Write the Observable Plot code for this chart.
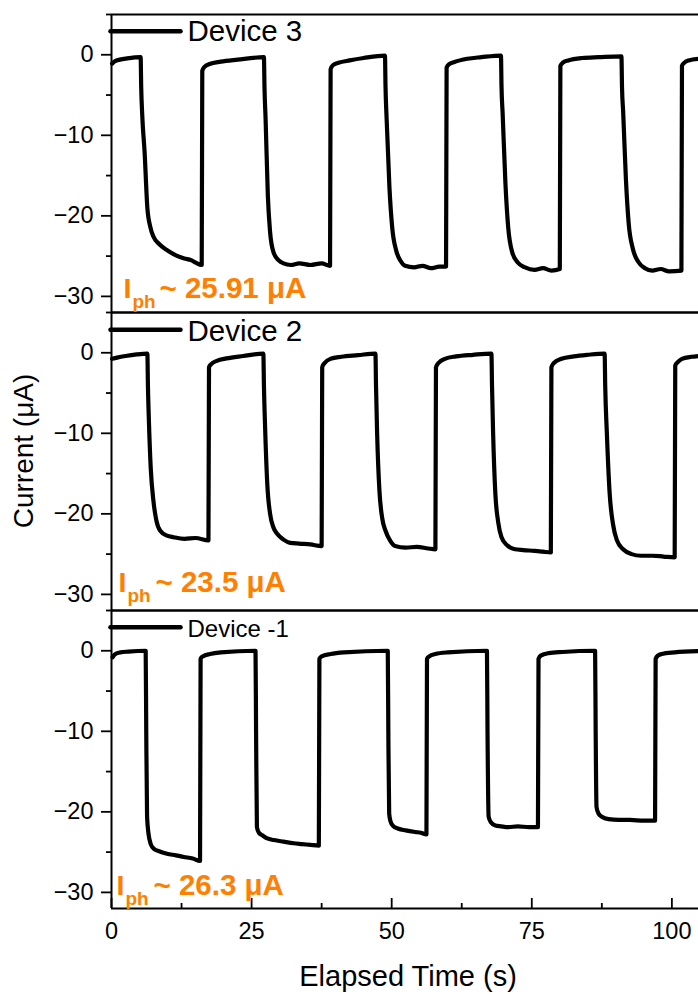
<!DOCTYPE html>
<html>
<head>
<meta charset="utf-8">
<script src="https://cdn.jsdelivr.net/npm/d3@7"></script>
<script src="https://cdn.jsdelivr.net/npm/@observablehq/plot@0.6"></script>
<style>
  html, body { margin: 0; padding: 0; background: #fff; overflow: hidden; }
</style>
</head>
<body>
<div id="chart"></div>
<script>
// ---------- data ----------
const devices = ["Device 3", "Device 2", "Device -1"];
const iphValues = ["25.91", "23.5", "26.3"];

const xMajorTicks = [0, 25, 50, 75, 100];
const xMinorTicks = [12.5, 37.5, 62.5, 87.5];
const yMajorTicks = [-30, -20, -10, 0];
const yMinorTicks = [-25, -15, -5, 5];
const xDomain = [0, 104.75];
const yDomain = [-32, 5];

// Device 3 (top panel): elapsed time (s) and current (µA)
const tDev3 = [
  0.1, 0.6, 1.5, 2.8, 5.2, 5.3, 5.5, 5.9, 6.4, 6.9, 7.5, 8.5, 10.0, 11.5, 13.0, 14.2, 15.0, 16.1,
  16.2, 16.6, 17.5, 19.5, 22.5, 27.2, 27.3, 27.5, 27.9, 28.3, 28.9, 29.8, 30.7, 32.0, 33.5, 35.5, 37.5, 39.0,
  39.1, 39.5, 40.5, 42.5, 45.0, 48.8, 48.9, 49.1, 49.6, 50.1, 50.8, 51.6, 52.4, 54.0, 55.5, 57.0, 58.5, 59.7,
  59.8, 60.2, 61.2, 63.5, 66.0, 69.5, 69.6, 69.8, 70.3, 70.8, 71.5, 72.5, 73.8, 75.5, 77.0, 78.5, 80.0,
  80.1, 80.5, 81.5, 84.0, 87.0, 91.0, 91.1, 91.3, 91.8, 92.3, 93.0, 94.0, 95.2, 96.5, 98.0, 99.5, 101.7,
  101.8, 102.2, 103.0, 104.75];
const iDev3 = [
  -1.1, -0.8, -0.6, -0.45, -0.3, -4.0, -7.7, -12.0, -19.0, -21.3, -22.6, -23.5, -24.3, -24.9, -25.3, -25.5, -25.8, -26.1,
  -2.0, -1.5, -1.15, -0.85, -0.6, -0.3, -4.0, -8.0, -17.5, -22.0, -24.5, -25.5, -25.9, -26.1, -25.9, -26.1, -25.9, -26.2,
  -1.8, -1.3, -1.0, -0.7, -0.4, -0.1, -4.0, -8.0, -16.5, -21.5, -24.3, -25.6, -26.2, -26.4, -26.2, -26.5, -26.3, -26.3,
  -1.6, -1.2, -0.9, -0.5, -0.3, -0.1, -4.0, -7.3, -16.0, -21.5, -24.5, -25.8, -26.4, -26.7, -26.5, -26.8, -26.6,
  -1.4, -1.0, -0.7, -0.4, -0.3, -0.2, -4.0, -7.0, -15.5, -21.0, -24.0, -25.7, -26.5, -26.8, -26.6, -26.9, -26.8,
  -1.4, -1.0, -0.7, -0.5];

// Device 2 (middle panel)
const tDev2 = [
  0.1, 1.0, 2.5, 4.5, 6.4, 6.5, 6.7, 7.0, 7.5, 8.0, 8.7, 9.9, 11.1, 13.0, 15.0, 17.3,
  17.4, 17.8, 18.8, 20.5, 23.5, 27.1, 27.2, 27.4, 27.8, 28.3, 28.9, 29.6, 30.7, 31.9, 33.5, 35.5, 37.5,
  37.6, 38.0, 39.1, 41.0, 44.0, 47.1, 47.2, 47.4, 47.8, 48.3, 48.9, 49.7, 50.6, 52.5, 54.5, 56.5, 57.8,
  57.9, 58.3, 59.5, 61.5, 64.5, 67.8, 67.9, 68.1, 68.5, 69.0, 69.6, 70.6, 72.0, 73.5, 75.5, 77.0, 78.4,
  78.5, 78.9, 80.3, 82.5, 85.0, 88.0, 88.1, 88.4, 88.9, 89.5, 90.2, 91.3, 92.8, 94.5, 96.5, 98.5, 100.5,
  100.6, 101.0, 101.8, 103.5, 104.75];
const iDev2 = [
  -0.75, -0.6, -0.4, -0.2, -0.1, -4.0, -9.0, -14.3, -18.5, -20.8, -22.1, -22.7, -22.9, -23.1, -23.0, -23.3,
  -1.8, -1.4, -1.0, -0.7, -0.4, -0.1, -4.0, -9.0, -16.3, -20.0, -21.7, -22.5, -23.2, -23.6, -23.7, -23.8, -24.0,
  -1.8, -1.3, -0.75, -0.5, -0.3, -0.1, -4.0, -10.0, -17.0, -20.5, -22.1, -23.3, -24.0, -24.2, -24.1, -24.3, -24.4,
  -1.8, -1.3, -0.75, -0.45, -0.25, -0.1, -4.0, -10.0, -17.5, -21.0, -22.9, -23.9, -24.4, -24.5, -24.6, -24.7, -24.8,
  -1.8, -1.3, -0.75, -0.45, -0.25, -0.1, -4.0, -10.0, -17.5, -21.3, -23.3, -24.4, -25.0, -25.2, -25.2, -25.3, -25.4,
  -1.6, -1.2, -0.75, -0.5, -0.4];

// Device -1 (bottom panel)
const tDevM1 = [
  0.2, 0.7, 1.6, 3.0, 6.1, 6.2, 6.35, 6.6, 7.0, 7.6, 8.5, 9.9, 11.5, 12.9, 14.5, 15.8,
  15.9, 16.3, 17.6, 19.5, 25.7, 25.8, 25.95, 26.3, 26.9, 27.8, 29.0, 30.7, 32.5, 34.0, 35.5, 37.0,
  37.1, 37.5, 39.1, 41.5, 49.3, 49.4, 49.55, 49.8, 50.2, 51.2, 52.5, 54.2, 55.2, 56.2,
  56.3, 56.7, 57.8, 60.0, 67.0, 67.1, 67.3, 67.7, 68.5, 69.5, 70.8, 72.5, 74.5, 76.1,
  76.2, 76.6, 78.0, 80.5, 86.3, 86.4, 86.55, 86.9, 87.5, 88.7, 90.5, 92.5, 95.0, 97.0,
  97.1, 97.5, 98.2, 100.5, 104.75];
const iDevM1 = [
  -0.8, -0.4, -0.2, -0.1, 0.0, -10.0, -20.6, -22.7, -24.0, -24.6, -24.9, -25.2, -25.4, -25.6, -25.8, -26.1,
  -1.0, -0.7, -0.4, -0.2, 0.0, -10.0, -21.9, -22.6, -22.9, -23.3, -23.5, -23.7, -23.9, -24.0, -24.1, -24.2,
  -1.0, -0.7, -0.4, -0.2, 0.0, -10.0, -20.2, -21.2, -21.7, -22.1, -22.3, -22.5, -22.6, -22.8,
  -1.0, -0.7, -0.4, -0.2, 0.0, -10.0, -20.6, -21.3, -21.7, -21.8, -21.9, -21.8, -21.9, -21.9,
  -1.0, -0.6, -0.3, -0.15, 0.0, -10.0, -19.4, -20.2, -20.6, -20.9, -21.0, -21.0, -21.1, -21.1,
  -1.0, -0.6, -0.4, -0.2, -0.05];

const seriesTimes = [tDev3, tDev2, tDevM1];
const seriesCurrents = [iDev3, iDev2, iDevM1];

// ---------- layout (styles / offsets, not data) ----------
const FONT = "'Liberation Sans', Arial, Helvetica, sans-serif";
const ORANGE = "#FF8000";
const layout = {
  "Device 3":  {legendSize: 29.5, legendDy: 26.7, swatchDy: 16.7, iDx: 12, phDx: 21, tildeDx: 48, baseDy: -14.5},
  "Device 2":  {legendSize: 29.5, legendDy: 28.0, swatchDy: 17.3, iDx: 7,  phDx: 16, tildeDx: 44, baseDy: -18.3},
  "Device -1": {legendSize: 24,   legendDy: 26.7, swatchDy: 16.7, iDx: 5,  phDx: 14, tildeDx: 42, baseDy: -13.3}
};

const rows = devices.flatMap((d, k) =>
  seriesTimes[k].map((t, i) => ({device: d, t, current: seriesCurrents[k][i]})));
const annotations = devices.map((d, k) => ({device: d, value: iphValues[k]}));

const width = 698, height = 994, mTop = 14, mBottom = 86;
const facetH = (height - mTop - mBottom) / devices.length;

const spike = {
  draw(context, l) { context.moveTo(0, 0); context.lineTo(0, -l); }
};

const chart = Plot.plot({
  width, height,
  marginLeft: 111, marginRight: 0, marginTop: mTop, marginBottom: mBottom,
  style: {fontFamily: FONT, background: "#fff", color: "#000", overflow: "visible"},
  x: {domain: xDomain},
  y: {domain: yDomain},
  fy: {domain: devices, padding: 0, axis: null},
  marks: [
    // panel frames (top, bottom, left)
    Plot.ruleY(yDomain, {stroke: "#000", strokeWidth: 2}),
    Plot.ruleX([xDomain[0]], {stroke: "#000", strokeWidth: 2}),
    // y axis: major and minor ticks (outward)
    Plot.axisY({ticks: yMajorTicks, tickSize: 10, tickPadding: 8, fontSize: 23.5,
      tickFormat: d3.format(""), label: null, strokeWidth: 1.8}),
    Plot.axisY({ticks: yMinorTicks, tickSize: 5, tickFormat: () => "", label: null, strokeWidth: 1.8}),
    // x axis labels (bottom panel only) with inward ticks
    Plot.axisX({ticks: xMajorTicks, tickSize: 0, tickPadding: 14, fontSize: 23.5,
      tickFormat: d3.format(""), label: null}),
    Plot.tickX(xMajorTicks, {x: d => d, fy: () => "Device -1", insetTop: facetH - 10, stroke: "#000", strokeWidth: 1.8}),
    Plot.tickX(xMinorTicks, {x: d => d, fy: () => "Device -1", insetTop: facetH - 5, stroke: "#000", strokeWidth: 1.8}),
    // data lines
    Plot.line(rows, {x: "t", y: "current", fy: "device", stroke: "#000", curve: "monotone-x",
      strokeWidth: 4.2, strokeLinejoin: "round", strokeLinecap: "round"}),
    // legend swatches and labels
    ...devices.map(d => Plot.vector([d], {fy: x => x, frameAnchor: "top-left", dx: -1, dy: layout[d].swatchDy,
      rotate: 90, length: 70, anchor: "start", shape: spike, stroke: "#000", strokeWidth: 4.5, strokeLinecap: "round"})),
    ...devices.map(d => Plot.text([d], {fy: x => x, text: x => x, frameAnchor: "top-left", dx: 76,
      dy: layout[d].legendDy, textAnchor: "start", lineAnchor: "bottom", fontSize: layout[d].legendSize, fill: "#000"})),
    // I_ph annotations
    ...annotations.map(a => Plot.text([a], {fy: "device", text: () => "I", frameAnchor: "bottom-left",
      dx: layout[a.device].iDx, dy: layout[a.device].baseDy, textAnchor: "start", lineAnchor: "bottom",
      fontSize: 28.5, fontWeight: "bold", fill: ORANGE})),
    ...annotations.map(a => Plot.text([a], {fy: "device", text: () => "ph", frameAnchor: "bottom-left",
      dx: layout[a.device].phDx, dy: layout[a.device].baseDy + 9.5, textAnchor: "start", lineAnchor: "bottom",
      fontSize: 19, fontWeight: "bold", fill: ORANGE})),
    ...annotations.map(a => Plot.text([a], {fy: "device", text: d => `~ ${d.value} \u03bcA`, frameAnchor: "bottom-left",
      dx: layout[a.device].tildeDx, dy: layout[a.device].baseDy, textAnchor: "start", lineAnchor: "bottom",
      fontSize: 29.5, fontWeight: "bold", fill: ORANGE})),
    // axis titles
    Plot.text(["Current (\u03bcA)"], {fy: () => "Device 2", text: d => d, frameAnchor: "left", dx: -87, dy: -10.5,
      textAnchor: "middle", rotate: -90, fontSize: 28, fill: "#000"}),
    Plot.text(["Elapsed Time (s)"], {fy: () => "Device -1", text: d => d, frameAnchor: "bottom", dx: 3, dy: 77,
      textAnchor: "middle", lineAnchor: "bottom", fontSize: 29, fill: "#000"})
  ]
});

document.getElementById("chart").append(chart);
</script>
</body>
</html>
